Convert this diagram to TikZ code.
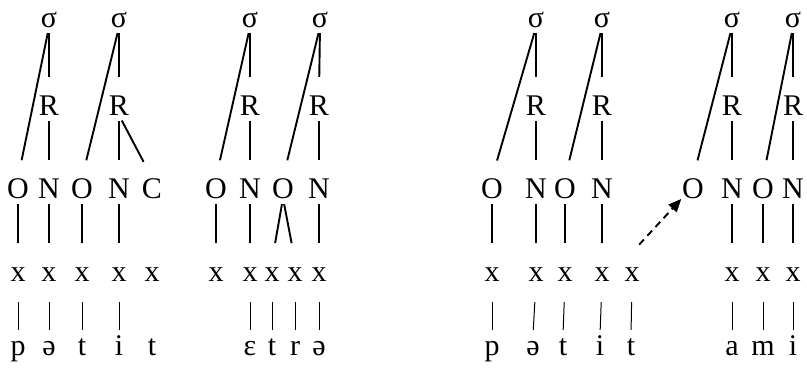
\documentclass[tikz,border=0pt]{standalone}
\usepackage{fontspec}
\setmainfont{Liberation Serif}
\usetikzlibrary{arrows.meta}

\begin{document}
\begin{tikzpicture}[x=1pt,y=-1pt,font=\fontsize{30}{36}\selectfont,
  every node/.style={inner sep=0pt,text height=20pt,text depth=0pt,anchor=base},
  link/.style={line width=1.9pt,shorten <=6pt,shorten >=18pt},
  bar/.style={line width=1pt,shorten <=21pt,shorten >=5pt}]
  \useasboundingbox (0,0) rectangle (807,373);
  % petite
  \node (sa1) at (49,27) {σ};   \node (sa2) at (119,27) {σ};
  \node (ra1) at (49,115) {R};  \node (ra2) at (119,115) {R};
  \node (oa1) at (18,198) {O};  \node (na1) at (49,198) {N};
  \node (oa2) at (82,198) {O};  \node (na2) at (119,198) {N};
  \node (ca) at (152,198) {C};
  \node (xa1) at (18,281) {x};  \node (xa2) at (49,281) {x};
  \node (xa3) at (82,281) {x};  \node (xa4) at (119,281) {x};
  \node (xa5) at (152,281) {x};
  \node (ga1) at (18,355) {p};  \node (ga2) at (49,355) {ə};
  \node (ga3) at (82,355) {t};  \node (ga4) at (119,355) {i};
  \node (ga5) at (152,355) {t};

  % etre
  \node (sb1) at (250,27) {σ};  \node (sb2) at (320,27) {σ};
  \node (rb1) at (250,115) {R}; \node (rb2) at (319,115) {R};
  \node (ob1) at (216,198) {O}; \node (nb1) at (250,198) {N};
  \node (ob2) at (283,198) {O}; \node (nb2) at (319,198) {N};
  \node (xb1) at (216,281) {x}; \node (xb2) at (250,281) {x};
  \node (xb3) at (272,281) {x}; \node (xb4) at (295,281) {x};
  \node (xb5) at (319,281) {x};
  \node (gb2) at (250,355) {ɛ}; \node (gb3) at (272,355) {t};
  \node (gb4) at (295,355) {r}; \node (gb5) at (319,355) {ə};

  % petit
  \node (sc1) at (536,27) {σ};  \node (sc2) at (602,27) {σ};
  \node (rc1) at (536,115) {R}; \node (rc2) at (602,115) {R};
  \node (oc1) at (492,198) {O}; \node (nc1) at (536,198) {N};
  \node (oc2) at (565,198) {O}; \node (nc2) at (602,198) {N};
  \node (xc1) at (492,281) {x}; \node (xc2) at (536,281) {x};
  \node (xc3) at (565,281) {x}; \node (xc4) at (602,281) {x};
  \node (xc5) at (632,281) {x};
  \node (gc1) at (492,355) {p}; \node (gc2) at (533,355) {ə};
  \node (gc3) at (563,355) {t}; \node (gc4) at (600,355) {i};
  \node (gc5) at (631,355) {t};

  % ami
  \node (sd1) at (732,27) {σ};  \node (sd2) at (793,27) {σ};
  \node (rd1) at (732,115) {R}; \node (rd2) at (793,115) {R};
  \node (od1) at (693,198) {O}; \node (nd1) at (732,198) {N};
  \node (od2) at (763,198) {O}; \node (nd2) at (793,198) {N};
  \node (xd1) at (732,281) {x}; \node (xd2) at (763,281) {x};
  \node (xd3) at (793,281) {x};
  \node (gd1) at (732,355) {a}; \node (gd2) at (763,355) {m};
  \node (gd3) at (793,355) {i};

  \path[link] (sa1.south) edge (oa1.north) (sa1.south) edge (ra1.north)
    (ra1.south) edge (na1.north) (sa2.south) edge (oa2.north)
    (sa2.south) edge (ra2.north) (ra2.south) edge (na2.north)
    (ra2.south) edge (ca.north)
    (oa1.south) edge (xa1.north) (na1.south) edge (xa2.north)
    (oa2.south) edge (xa3.north) (na2.south) edge (xa4.north);
  \path[bar] (xa1.south) edge (ga1.north) (xa2.south) edge (ga2.north)
    (xa3.south) edge (ga3.north) (xa4.south) edge (ga4.north);

  \path[link] (sb1.south) edge (ob1.north) (sb1.south) edge (rb1.north)
    (rb1.south) edge (nb1.north) (sb2.south) edge (ob2.north)
    (sb2.south) edge (rb2.north) (rb2.south) edge (nb2.north)
    (ob1.south) edge (xb1.north) (nb1.south) edge (xb2.north)
    (ob2.south) edge (xb3.north) (ob2.south) edge (xb4.north)
    (nb2.south) edge (xb5.north);
  \path[bar] (xb2.south) edge (gb2.north) (xb3.south) edge (gb3.north)
    (xb4.south) edge (gb4.north) (xb5.south) edge (gb5.north);

  \path[link] (sc1.south) edge (oc1.north) (sc1.south) edge (rc1.north)
    (rc1.south) edge (nc1.north) (sc2.south) edge (oc2.north)
    (sc2.south) edge (rc2.north) (rc2.south) edge (nc2.north)
    (oc1.south) edge (xc1.north) (nc1.south) edge (xc2.north)
    (oc2.south) edge (xc3.north) (nc2.south) edge (xc4.north);
  \path[bar] (xc1.south) edge (gc1.north) (xc2.south) edge (gc2.north)
    (xc3.south) edge (gc3.north) (xc4.south) edge (gc4.north)
    (xc5.south) edge (gc5.north);

  \path[link] (sd1.south) edge (od1.north) (sd1.south) edge (rd1.north)
    (rd1.south) edge (nd1.north) (sd2.south) edge (od2.north)
    (sd2.south) edge (rd2.north) (rd2.south) edge (nd2.north)
    (nd1.south) edge (xd1.north) (od2.south) edge (xd2.north)
    (nd2.south) edge (xd3.north);
  \path[bar] (xd1.south) edge (gd1.north) (xd2.south) edge (gd2.north)
    (xd3.south) edge (gd3.north);

  % liaison
  \draw[line width=1.9pt,dash pattern=on 7pt off 5pt,-{Triangle[length=13pt,width=11pt]},
    shorten <=22pt,shorten >=1pt] (xc5.north west) -- (od1.south west);
\end{tikzpicture}
\end{document}
